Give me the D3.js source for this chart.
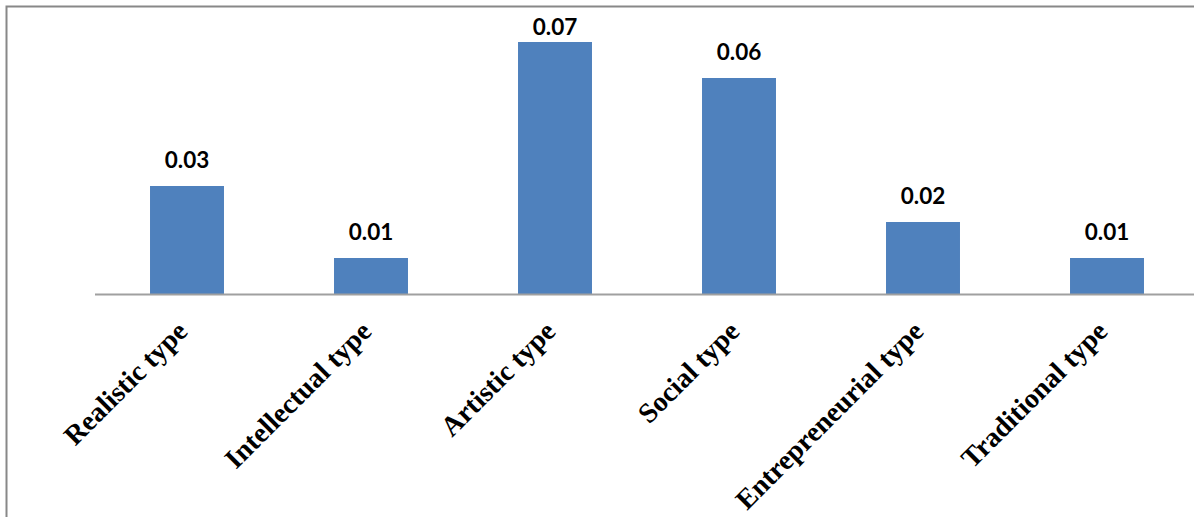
<!DOCTYPE html>
<html>
<head>
<meta charset="utf-8">
<script src="https://cdn.jsdelivr.net/npm/d3@7"></script>
<style>
  html, body { margin: 0; padding: 0; background: #fff; }
  svg { display: block; }
</style>
</head>
<body>
<svg id="chart" width="1194" height="517"></svg>
<script>
// Holland occupational interest types and their scores
const categories = ["Realistic type", "Intellectual type", "Artistic type", "Social type", "Entrepreneurial type", "Traditional type"];
const values = [0.03, 0.01, 0.07, 0.06, 0.02, 0.01];
const valueLabels = ["0.03", "0.01", "0.07", "0.06", "0.02", "0.01"];

const svg = d3.select("#chart");
const W = 1194, H = 517;

// outer chart frame (left and top edges visible)
svg.append("path")
  .attr("d", `M6.5,${H + 5} L6.5,6.5 L${W + 5},6.5`)
  .attr("fill", "none")
  .attr("stroke", "#888")
  .attr("stroke-width", 2);

const baseY = 294;
const x = d3.scaleBand()
  .domain(categories)
  .range([95, 95 + 184 * categories.length])
  .paddingInner(0.598)
  .paddingOuter(0.299);

const y = d3.scaleLinear()
  .domain([0, 0.07])
  .range([baseY, 42]);

// bars
svg.append("g")
  .selectAll("rect")
  .data(categories)
  .join("rect")
  .attr("x", d => x(d))
  .attr("y", (d, i) => y(values[i]))
  .attr("width", x.bandwidth())
  .attr("height", (d, i) => baseY - y(values[i]))
  .attr("fill", "#4f81bd");

// category axis line
const xAxis = d3.axisBottom(x).tickSize(0).tickFormat("");
const gx = svg.append("g")
  .attr("transform", `translate(0,${baseY})`)
  .call(xAxis);
gx.select(".domain")
  .attr("d", `M95,0.5H${W + 5}`)
  .attr("stroke", "#a0a0a0")
  .attr("stroke-width", 2);

// rotated category labels
svg.append("g")
  .selectAll("text")
  .data(categories)
  .join("text")
  .attr("transform", d => `translate(${x(d) + x.bandwidth() / 2 + 2},${baseY + 39}) rotate(-45)`)
  .attr("text-anchor", "end")
  .attr("font-family", "'Liberation Serif', 'Times New Roman', serif")
  .attr("font-weight", "bold")
  .attr("font-size", 28)
  .attr("fill", "#000")
  .text(d => d);

// value labels above bars, kept inside the plot area at the top
const labelTop = 35;
svg.append("g")
  .selectAll("text")
  .data(categories)
  .join("text")
  .attr("x", d => x(d) + x.bandwidth() / 2)
  .attr("y", (d, i) => Math.max(y(values[i]) - 18, labelTop))
  .attr("text-anchor", "middle")
  .attr("font-family", "Lato, 'Open Sans', sans-serif")
  .attr("font-weight", "bold")
  .attr("font-size", 22.5)
  .attr("fill", "#000")
  .text((d, i) => valueLabels[i]);
</script>
</body>
</html>
